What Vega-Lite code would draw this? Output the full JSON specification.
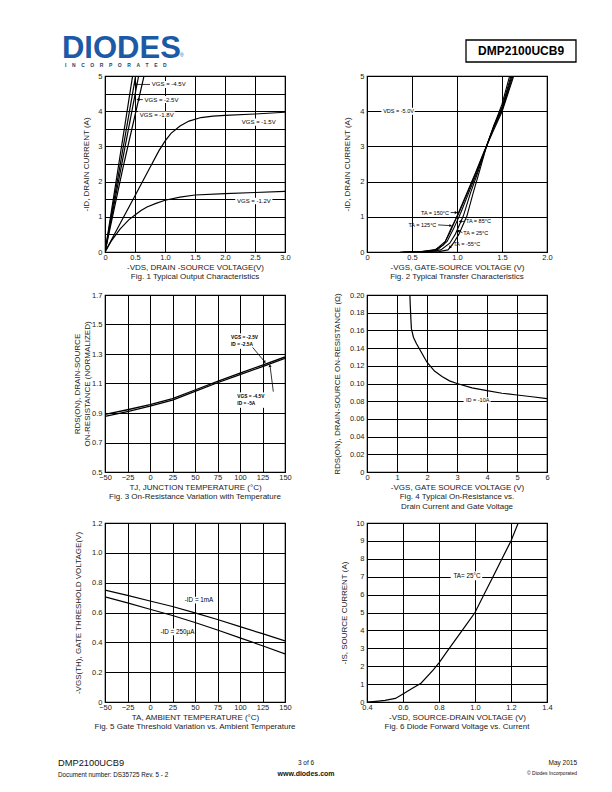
{
"$schema": "https://vega.github.io/schema/vega-lite/v6.json",
"padding": {"left": 58, "top": 28, "right": 0, "bottom": 0},
"background": "white",
"config": {
  "font": "Liberation Sans",
  "view": {"stroke": "black", "strokeWidth": 1.2},
  "axis": {"grid": true, "gridColor": "black", "gridOpacity": 1, "gridWidth": 1, "ticks": false, "domain": false, "tickCount": 60,
           "labelFont": "Liberation Sans", "labelFontSize": 7.5, "labelColor": "#222", "labelFlush": false, "labelOverlap": false, "labelBound": false,
           "titleFont": "Liberation Sans", "titleFontSize": 8, "titleFontWeight": "normal", "titleColor": "#222"},
  "axisX": {"labelPadding": 1, "titlePadding": 2.5},
  "axisY": {"labelPadding": 3, "titlePadding": 7},
  "title": {"orient": "bottom", "anchor": "middle", "font": "Liberation Sans", "fontSize": 8, "fontWeight": "normal", "color": "#222", "offset": 2},
  "text": {"font": "Liberation Sans"}
},
"datasets": {
  "hL": [
    {"k": "logo", "x": -23.9, "y": 62.5, "t": "DIODES"},
    {"k": "inc", "x": -22.2, "y": 81, "t": "I\u00a0\u00a0\u00a0\u00a0N\u00a0\u00a0\u00a0\u00a0C\u00a0\u00a0\u00a0\u00a0O\u00a0\u00a0\u00a0\u00a0R\u00a0\u00a0\u00a0\u00a0P\u00a0\u00a0\u00a0\u00a0O\u00a0\u00a0\u00a0\u00a0R\u00a0\u00a0\u00a0\u00a0A\u00a0\u00a0\u00a0\u00a0T\u00a0\u00a0\u00a0\u00a0E\u00a0\u00a0\u00a0\u00a0D"},
    {"k": "reg", "x": 41.7, "y": 60, "t": "®"}
  ],
  "hRbox": [{"x1": 55, "x2": 116.1, "y1": 25, "y2": 70.8}],
  "hR": [{"x": 85.6, "y": 47.9, "t": "DMP2100UCB9"}],
  "fL": [
    {"k": "pn", "x": -26.1, "y": 82.1, "t": "DMP2100UCB9"},
    {"k": "doc", "x": -26.1, "y": 96.2, "t": "Document number: DS35725 Rev. 5 - 2"},
    {"k": "pg", "x": 111.7, "y": 80.8, "t": "3 of 6"},
    {"k": "www", "x": 111.7, "y": 94.9, "t": "www.diodes.com"}
  ],
  "fR": [
    {"k": "date", "x": 116.7, "y": 80.8, "t": "May 2015"},
    {"k": "copy", "x": 116.7, "y": 93.6, "t": "© Diodes Incorporated"}
  ],
  "empty": [],
  "c1": [
    {"s": "-4.5V", "x": 0, "y": 0}, {"s": "-4.5V", "x": 0.46, "y": 5},
    {"s": "-3.0V", "x": 0, "y": 0}, {"s": "-3.0V", "x": 0.51, "y": 5},
    {"s": "-2.5V", "x": 0, "y": 0}, {"s": "-2.5V", "x": 0.56, "y": 5},
    {"s": "-1.8V", "x": 0, "y": 0}, {"s": "-1.8V", "x": 0.3, "y": 2.4}, {"s": "-1.8V", "x": 0.65, "y": 5},
    {"s": "-1.5V", "x": 0, "y": 0}, {"s": "-1.5V", "x": 0.25, "y": 0.8}, {"s": "-1.5V", "x": 0.5, "y": 1.6}, {"s": "-1.5V", "x": 0.75, "y": 2.4}, {"s": "-1.5V", "x": 0.9, "y": 2.88}, {"s": "-1.5V", "x": 1.0, "y": 3.15}, {"s": "-1.5V", "x": 1.1, "y": 3.37}, {"s": "-1.5V", "x": 1.25, "y": 3.58}, {"s": "-1.5V", "x": 1.4, "y": 3.72}, {"s": "-1.5V", "x": 1.6, "y": 3.82}, {"s": "-1.5V", "x": 1.8, "y": 3.86}, {"s": "-1.5V", "x": 2.0, "y": 3.88}, {"s": "-1.5V", "x": 2.5, "y": 3.92}, {"s": "-1.5V", "x": 3.0, "y": 3.97},
    {"s": "-1.2V", "x": 0, "y": 0}, {"s": "-1.2V", "x": 0.1, "y": 0.3}, {"s": "-1.2V", "x": 0.25, "y": 0.65}, {"s": "-1.2V", "x": 0.4, "y": 0.92}, {"s": "-1.2V", "x": 0.5, "y": 1.05}, {"s": "-1.2V", "x": 0.6, "y": 1.18}, {"s": "-1.2V", "x": 0.7, "y": 1.28}, {"s": "-1.2V", "x": 0.85, "y": 1.38}, {"s": "-1.2V", "x": 1.0, "y": 1.47}, {"s": "-1.2V", "x": 1.25, "y": 1.56}, {"s": "-1.2V", "x": 1.5, "y": 1.62}, {"s": "-1.2V", "x": 2.0, "y": 1.66}, {"s": "-1.2V", "x": 2.5, "y": 1.69}, {"s": "-1.2V", "x": 3.0, "y": 1.72}
  ],
  "c1lab": [
    {"x": 0.78, "y": 4.76, "t": "VGS = -4.5V"},
    {"x": 0.66, "y": 4.33, "t": "VGS = -2.5V"},
    {"x": 0.58, "y": 3.9, "t": "VGS = -1.8V"},
    {"x": 2.28, "y": 3.69, "t": "VGS = -1.5V"},
    {"x": 2.2, "y": 1.45, "t": "VGS = -1.2V"}
  ],
  "c1bg": [
    {"x1": 0.75, "x2": 1.37, "y1": 4.66, "y2": 4.86},
    {"x1": 0.63, "x2": 1.25, "y1": 4.23, "y2": 4.43},
    {"x1": 0.55, "x2": 1.17, "y1": 3.81, "y2": 3.99},
    {"x1": 2.25, "x2": 2.87, "y1": 3.59, "y2": 3.79},
    {"x1": 2.17, "x2": 2.79, "y1": 1.36, "y2": 1.54}
  ],
  "c1ld": [
    {"x1": 0.5, "x2": 0.75, "y1": 4.76, "y2": 4.76},
    {"x1": 0.55, "x2": 0.63, "y1": 4.33, "y2": 4.33}
  ],
  "c1ar": [
    {"x": 0.5, "y": 4.76, "a": 270},
    {"x": 0.55, "y": 4.33, "a": 270}
  ],
  "c2": [
    {"s": "-55", "x": 0.62, "y": 0}, {"s": "-55", "x": 0.8, "y": 0.01}, {"s": "-55", "x": 0.9, "y": 0.06}, {"s": "-55", "x": 0.96, "y": 0.25}, {"s": "-55", "x": 1.02, "y": 0.5}, {"s": "-55", "x": 1.11, "y": 1.02}, {"s": "-55", "x": 1.18, "y": 1.68}, {"s": "-55", "x": 1.25, "y": 2.3}, {"s": "-55", "x": 1.33, "y": 3.02}, {"s": "-55", "x": 1.42, "y": 3.65}, {"s": "-55", "x": 1.5, "y": 4.2}, {"s": "-55", "x": 1.585, "y": 5.0},
    {"s": "25", "x": 0.52, "y": 0}, {"s": "25", "x": 0.7, "y": 0.01}, {"s": "25", "x": 0.82, "y": 0.06}, {"s": "25", "x": 0.92, "y": 0.25}, {"s": "25", "x": 0.98, "y": 0.5}, {"s": "25", "x": 1.07, "y": 1.02}, {"s": "25", "x": 1.15, "y": 1.68}, {"s": "25", "x": 1.23, "y": 2.25}, {"s": "25", "x": 1.33, "y": 3.02}, {"s": "25", "x": 1.41, "y": 3.6}, {"s": "25", "x": 1.5, "y": 4.12}, {"s": "25", "x": 1.6, "y": 5.0},
    {"s": "85", "x": 0.45, "y": 0}, {"s": "85", "x": 0.65, "y": 0.01}, {"s": "85", "x": 0.78, "y": 0.06}, {"s": "85", "x": 0.89, "y": 0.3}, {"s": "85", "x": 0.96, "y": 0.65}, {"s": "85", "x": 1.04, "y": 1.1}, {"s": "85", "x": 1.13, "y": 1.68}, {"s": "85", "x": 1.22, "y": 2.25}, {"s": "85", "x": 1.33, "y": 3.02}, {"s": "85", "x": 1.41, "y": 3.55}, {"s": "85", "x": 1.5, "y": 4.07}, {"s": "85", "x": 1.61, "y": 5.0},
    {"s": "125", "x": 0.4, "y": 0}, {"s": "125", "x": 0.62, "y": 0.01}, {"s": "125", "x": 0.76, "y": 0.06}, {"s": "125", "x": 0.87, "y": 0.3}, {"s": "125", "x": 0.94, "y": 0.7}, {"s": "125", "x": 1.02, "y": 1.1}, {"s": "125", "x": 1.12, "y": 1.7}, {"s": "125", "x": 1.21, "y": 2.25}, {"s": "125", "x": 1.33, "y": 3.02}, {"s": "125", "x": 1.4, "y": 3.48}, {"s": "125", "x": 1.5, "y": 4.02}, {"s": "125", "x": 1.62, "y": 5.0},
    {"s": "150", "x": 0.37, "y": 0}, {"s": "150", "x": 0.6, "y": 0.01}, {"s": "150", "x": 0.75, "y": 0.06}, {"s": "150", "x": 0.85, "y": 0.2}, {"s": "150", "x": 0.92, "y": 0.55}, {"s": "150", "x": 1.0, "y": 1.02}, {"s": "150", "x": 1.11, "y": 1.68}, {"s": "150", "x": 1.2, "y": 2.22}, {"s": "150", "x": 1.3, "y": 2.85}, {"s": "150", "x": 1.4, "y": 3.42}, {"s": "150", "x": 1.5, "y": 3.98}, {"s": "150", "x": 1.63, "y": 5.0}
  ],
  "c2lab": [
    {"x": 0.18, "y": 4.0, "t": "VDS = -5.0V"},
    {"x": 0.6, "y": 1.12, "t": "TA = 150°C"},
    {"x": 0.46, "y": 0.77, "t": "TA = 125°C"},
    {"x": 1.1, "y": 0.87, "t": "TA = 85°C"},
    {"x": 1.07, "y": 0.55, "t": "TA = 25°C"},
    {"x": 0.96, "y": 0.23, "t": "TA = -55°C"}
  ],
  "c2bg": [{"x1": 0.16, "x2": 0.53, "y1": 3.9, "y2": 4.1}],
  "c2ld": [
    {"x1": 0.93, "x2": 0.99, "y1": 1.12, "y2": 1.12},
    {"x1": 0.79, "x2": 0.92, "y1": 0.77, "y2": 0.75},
    {"x1": 1.09, "x2": 1.04, "y1": 0.87, "y2": 0.87},
    {"x1": 1.06, "x2": 1.02, "y1": 0.55, "y2": 0.6},
    {"x1": 0.955, "x2": 0.925, "y1": 0.21, "y2": 0.14}
  ],
  "c2ar": [
    {"x": 0.99, "y": 1.12, "a": 90},
    {"x": 0.93, "y": 0.75, "a": 95},
    {"x": 1.035, "y": 0.87, "a": 270},
    {"x": 1.015, "y": 0.61, "a": 315},
    {"x": 0.92, "y": 0.13, "a": 225}
  ],
  "c3": [
    {"s": "-2.5V", "x": -50, "y": 0.89}, {"s": "-2.5V", "x": -25, "y": 0.922}, {"s": "-2.5V", "x": 0, "y": 0.957}, {"s": "-2.5V", "x": 25, "y": 0.997}, {"s": "-2.5V", "x": 50, "y": 1.056}, {"s": "-2.5V", "x": 75, "y": 1.115}, {"s": "-2.5V", "x": 100, "y": 1.17}, {"s": "-2.5V", "x": 125, "y": 1.225}, {"s": "-2.5V", "x": 150, "y": 1.28},
    {"s": "-4.5V", "x": -50, "y": 0.877}, {"s": "-4.5V", "x": -25, "y": 0.91}, {"s": "-4.5V", "x": 0, "y": 0.946}, {"s": "-4.5V", "x": 25, "y": 0.987}, {"s": "-4.5V", "x": 50, "y": 1.046}, {"s": "-4.5V", "x": 75, "y": 1.105}, {"s": "-4.5V", "x": 100, "y": 1.16}, {"s": "-4.5V", "x": 125, "y": 1.215}, {"s": "-4.5V", "x": 150, "y": 1.27}
  ],
  "c3lab": [
    {"x": 90, "y": 1.41, "t": "VGS = -2.5V"},
    {"x": 90, "y": 1.36, "t": "ID = -2.5A"},
    {"x": 97, "y": 1.01, "t": "VGS = -4.5V"},
    {"x": 97, "y": 0.96, "t": "ID = -5A"}
  ],
  "c3bg": [
    {"x1": 88, "x2": 121, "y1": 1.335, "y2": 1.44},
    {"x1": 95, "x2": 128, "y1": 0.935, "y2": 1.04}
  ],
  "c3ld": [
    {"x1": 114, "x2": 127, "y1": 1.345, "y2": 1.25},
    {"x1": 137, "x2": 133.5, "y1": 1.045, "y2": 1.215}
  ],
  "c3ar": [
    {"x": 127.5, "y": 1.245, "a": 145},
    {"x": 133.2, "y": 1.222, "a": 350}
  ],
  "c4": [
    {"x": 1.43, "y": 0.2}, {"x": 1.44, "y": 0.19}, {"x": 1.46, "y": 0.175}, {"x": 1.48, "y": 0.162}, {"x": 1.55, "y": 0.152}, {"x": 1.65, "y": 0.145}, {"x": 1.75, "y": 0.139}, {"x": 1.9, "y": 0.13}, {"x": 2.0, "y": 0.124}, {"x": 2.25, "y": 0.114}, {"x": 2.5, "y": 0.108}, {"x": 2.75, "y": 0.103}, {"x": 3.0, "y": 0.1}, {"x": 3.5, "y": 0.095}, {"x": 4.0, "y": 0.092}, {"x": 4.5, "y": 0.089}, {"x": 5.0, "y": 0.087}, {"x": 5.5, "y": 0.085}, {"x": 6.0, "y": 0.083}
  ],
  "c4lab": [{"x": 3.3, "y": 0.081, "t": "ID = -10A"}],
  "c4bg": [{"x1": 3.22, "x2": 4.12, "y1": 0.0775, "y2": 0.0845}],
  "c5": [
    {"s": "1mA", "x": -50, "y": 0.75}, {"s": "1mA", "x": -25, "y": 0.715}, {"s": "1mA", "x": 0, "y": 0.677}, {"s": "1mA", "x": 25, "y": 0.64}, {"s": "1mA", "x": 50, "y": 0.598}, {"s": "1mA", "x": 75, "y": 0.553}, {"s": "1mA", "x": 100, "y": 0.505}, {"s": "1mA", "x": 125, "y": 0.458}, {"s": "1mA", "x": 150, "y": 0.41},
    {"s": "250uA", "x": -50, "y": 0.705}, {"s": "250uA", "x": -25, "y": 0.665}, {"s": "250uA", "x": 0, "y": 0.622}, {"s": "250uA", "x": 25, "y": 0.58}, {"s": "250uA", "x": 50, "y": 0.533}, {"s": "250uA", "x": 75, "y": 0.483}, {"s": "250uA", "x": 100, "y": 0.43}, {"s": "250uA", "x": 125, "y": 0.377}, {"s": "250uA", "x": 150, "y": 0.322}
  ],
  "c5lab": [
    {"x": 38.6, "y": 0.683, "t": "-ID = 1mA"},
    {"x": 11.6, "y": 0.47, "t": "-ID = 250µA"}
  ],
  "c5bg": [
    {"x1": 36.5, "x2": 72, "y1": 0.66, "y2": 0.706},
    {"x1": 9.5, "x2": 50, "y1": 0.447, "y2": 0.493}
  ],
  "c6": [
    {"x": 0.4, "y": 0}, {"x": 0.45, "y": 0.04}, {"x": 0.5, "y": 0.09}, {"x": 0.558, "y": 0.2}, {"x": 0.609, "y": 0.5}, {"x": 0.65, "y": 0.75}, {"x": 0.7, "y": 1.05}, {"x": 0.767, "y": 1.78}, {"x": 0.8, "y": 2.19}, {"x": 0.85, "y": 2.9}, {"x": 0.9, "y": 3.6}, {"x": 0.95, "y": 4.3}, {"x": 1.0, "y": 5.0}, {"x": 1.05, "y": 6.0}, {"x": 1.1, "y": 7.0}, {"x": 1.15, "y": 8.0}, {"x": 1.2, "y": 9.0}, {"x": 1.24, "y": 10.0}
  ],
  "c6lab": [{"x": 0.88, "y": 7.05, "t": "TA= 25°C"}],
  "c6bg": [{"x1": 0.865, "x2": 1.04, "y1": 6.8, "y2": 7.3}]
},
"columns": 2,
"bounds": "flush",
"spacing": {"row": 0, "column": 82},
"concat": [
  {
    "width": 180, "height": 48, "view": {"stroke": null},
    "layer": [
      {"data": {"name": "hL"}, "transform": [{"filter": "datum.k == 'logo'"}],
       "mark": {"type": "text", "align": "left", "baseline": "alphabetic", "fontSize": 31, "fontWeight": "bold", "color": "#1d5aa6"},
       "encoding": {"x": {"field": "x", "type": "quantitative", "scale": {"domain": [0, 100], "nice": false, "zero": false}, "axis": null},
                    "y": {"field": "y", "type": "quantitative", "scale": {"domain": [0, 100], "nice": false, "zero": false, "reverse": true}, "axis": null},
                    "text": {"field": "t"}}},
      {"data": {"name": "hL"}, "transform": [{"filter": "datum.k == 'inc'"}],
       "mark": {"type": "text", "align": "left", "baseline": "alphabetic", "fontSize": 5, "fontWeight": "bold", "color": "#1d3f6e"},
       "encoding": {"x": {"field": "x", "type": "quantitative"}, "y": {"field": "y", "type": "quantitative"}, "text": {"field": "t"}}},
      {"data": {"name": "hL"}, "transform": [{"filter": "datum.k == 'reg'"}],
       "mark": {"type": "text", "align": "left", "baseline": "alphabetic", "fontSize": 5, "color": "#1d5aa6"},
       "encoding": {"x": {"field": "x", "type": "quantitative"}, "y": {"field": "y", "type": "quantitative"}, "text": {"field": "t"}}}
    ]
  },
  {
    "width": 180, "height": 48, "view": {"stroke": null},
    "layer": [
      {"data": {"name": "hRbox"}, "mark": {"type": "rect", "fill": "white", "stroke": "black", "strokeWidth": 1.3},
       "encoding": {"x": {"field": "x1", "type": "quantitative", "scale": {"domain": [0, 100], "nice": false, "zero": false}, "axis": null}, "x2": {"field": "x2"},
                    "y": {"field": "y1", "type": "quantitative", "scale": {"domain": [0, 100], "nice": false, "zero": false, "reverse": true}, "axis": null}, "y2": {"field": "y2"}}},
      {"data": {"name": "hR"},
       "mark": {"type": "text", "align": "center", "baseline": "middle", "fontSize": 12, "fontWeight": "bold", "color": "black"},
       "encoding": {"x": {"field": "x", "type": "quantitative"}, "y": {"field": "y", "type": "quantitative"}, "text": {"field": "t"}}}
    ]
  },
  {
    "width": 180, "height": 176,
    "title": "Fig. 1 Typical Output Characteristics",
    "layer": [
      {"data": {"name": "c1bg"}, "mark": {"type": "rect", "fill": "white"},
       "encoding": {
         "x": {"field": "x1", "type": "quantitative", "scale": {"domain": [0, 3], "nice": false, "zero": false},
               "axis": {"title": "-VDS, DRAIN -SOURCE VOLTAGE(V)", "values": [0, 0.5, 1, 1.5, 2, 2.5, 3], "labelExpr": "datum.value == 0 ? '0' : format(datum.value, '.1f')"}},
         "x2": {"field": "x2"},
         "y": {"field": "y1", "type": "quantitative", "scale": {"domain": [0, 5], "nice": false, "zero": false},
               "axis": {"title": "-ID, DRAIN CURRENT (A)", "titlePadding": 7, "values": [0, 0.5, 1, 1.5, 2, 2.5, 3, 3.5, 4, 4.5, 5], "labelExpr": "datum.value % 1 == 0 ? format(datum.value, 'd') : ''"}},
         "y2": {"field": "y2"}}},
      {"data": {"name": "c1"}, "mark": {"type": "line", "color": "black", "strokeWidth": 1.2, "clip": true},
       "encoding": {"x": {"field": "x", "type": "quantitative"}, "y": {"field": "y", "type": "quantitative"}, "detail": {"field": "s"}}},
      {"data": {"name": "c1ld"}, "mark": {"type": "rule", "color": "black", "strokeWidth": 0.8},
       "encoding": {"x": {"field": "x1", "type": "quantitative"}, "x2": {"field": "x2"}, "y": {"field": "y1", "type": "quantitative"}, "y2": {"field": "y2"}}},
      {"data": {"name": "c1ar"}, "mark": {"type": "point", "shape": "triangle-up", "filled": true, "color": "black", "size": 12, "opacity": 1},
       "encoding": {"x": {"field": "x", "type": "quantitative"}, "y": {"field": "y", "type": "quantitative"}, "angle": {"field": "a", "type": "quantitative", "scale": {"domain": [0, 360], "range": [0, 360]}}}},
      {"data": {"name": "c1lab"}, "mark": {"type": "text", "align": "left", "baseline": "middle", "fontSize": 6, "color": "black"},
       "encoding": {"x": {"field": "x", "type": "quantitative"}, "y": {"field": "y", "type": "quantitative"}, "text": {"field": "t"}}}
    ]
  },
  {
    "width": 180, "height": 176,
    "title": "Fig. 2  Typical Transfer Characteristics",
    "layer": [
      {"data": {"name": "c2bg"}, "mark": {"type": "rect", "fill": "white"},
       "encoding": {
         "x": {"field": "x1", "type": "quantitative", "scale": {"domain": [0, 2], "nice": false, "zero": false},
               "axis": {"title": "-VGS, GATE-SOURCE VOLTAGE (V)", "values": [0, 0.5, 1, 1.5, 2], "labelExpr": "datum.value == 0 ? '0' : format(datum.value, '.1f')"}},
         "x2": {"field": "x2"},
         "y": {"field": "y1", "type": "quantitative", "scale": {"domain": [0, 5], "nice": false, "zero": false},
               "axis": {"title": "-ID, DRAIN CURRENT (A)", "titlePadding": 8, "values": [0, 1, 2, 3, 4, 5], "format": "d"}},
         "y2": {"field": "y2"}}},
      {"data": {"name": "c2"}, "mark": {"type": "line", "color": "black", "strokeWidth": 1.1, "clip": true},
       "encoding": {"x": {"field": "x", "type": "quantitative"}, "y": {"field": "y", "type": "quantitative"}, "detail": {"field": "s"}}},
      {"data": {"name": "c2ld"}, "mark": {"type": "rule", "color": "black", "strokeWidth": 0.8},
       "encoding": {"x": {"field": "x1", "type": "quantitative"}, "x2": {"field": "x2"}, "y": {"field": "y1", "type": "quantitative"}, "y2": {"field": "y2"}}},
      {"data": {"name": "c2ar"}, "mark": {"type": "point", "shape": "triangle-up", "filled": true, "color": "black", "size": 10, "opacity": 1},
       "encoding": {"x": {"field": "x", "type": "quantitative"}, "y": {"field": "y", "type": "quantitative"}, "angle": {"field": "a", "type": "quantitative", "scale": {"domain": [0, 360], "range": [0, 360]}}}},
      {"data": {"name": "c2lab"}, "mark": {"type": "text", "align": "left", "baseline": "middle", "fontSize": 5.5, "color": "black"},
       "encoding": {"x": {"field": "x", "type": "quantitative"}, "y": {"field": "y", "type": "quantitative"}, "text": {"field": "t"}}}
    ]
  },
  {"width": 180, "height": 43, "view": {"stroke": null}, "data": {"name": "empty"}, "mark": "point"},
  {"width": 180, "height": 43, "view": {"stroke": null}, "data": {"name": "empty"}, "mark": "point"},
  {
    "width": 180, "height": 177,
    "title": "Fig. 3 On-Resistance Variation with Temperature",
    "layer": [
      {"data": {"name": "c3bg"}, "mark": {"type": "rect", "fill": "white"},
       "encoding": {
         "x": {"field": "x1", "type": "quantitative", "scale": {"domain": [-50, 150], "nice": false, "zero": false},
               "axis": {"title": "TJ, JUNCTION TEMPERATURE (°C)", "values": [-50, -25, 0, 25, 50, 75, 100, 125, 150], "format": "d"}},
         "x2": {"field": "x2"},
         "y": {"field": "y1", "type": "quantitative", "scale": {"domain": [0.5, 1.7], "nice": false, "zero": false},
               "axis": {"title": ["RDS(ON), DRAIN-SOURCE", "ON-RESISTANCE (NORMALIZED)"], "titlePadding": 0, "values": [0.5, 0.7, 0.9, 1.1, 1.3, 1.5, 1.7], "format": ".1f"}},
         "y2": {"field": "y2"}}},
      {"data": {"name": "c3"}, "mark": {"type": "line", "color": "black", "strokeWidth": 1.3, "clip": true},
       "encoding": {"x": {"field": "x", "type": "quantitative"}, "y": {"field": "y", "type": "quantitative"}, "detail": {"field": "s"}}},
      {"data": {"name": "c3ld"}, "mark": {"type": "rule", "color": "black", "strokeWidth": 0.8},
       "encoding": {"x": {"field": "x1", "type": "quantitative"}, "x2": {"field": "x2"}, "y": {"field": "y1", "type": "quantitative"}, "y2": {"field": "y2"}}},
      {"data": {"name": "c3ar"}, "mark": {"type": "point", "shape": "triangle-up", "filled": true, "color": "black", "size": 10, "opacity": 1},
       "encoding": {"x": {"field": "x", "type": "quantitative"}, "y": {"field": "y", "type": "quantitative"}, "angle": {"field": "a", "type": "quantitative", "scale": {"domain": [0, 360], "range": [0, 360]}}}},
      {"data": {"name": "c3lab"}, "mark": {"type": "text", "align": "left", "baseline": "middle", "fontSize": 4.8, "fontWeight": "bold", "color": "black"},
       "encoding": {"x": {"field": "x", "type": "quantitative"}, "y": {"field": "y", "type": "quantitative"}, "text": {"field": "t"}}}
    ]
  },
  {
    "width": 180, "height": 177,
    "title": ["Fig. 4 Typical On-Resistance vs.", "Drain Current and Gate Voltage"],
    "layer": [
      {"data": {"name": "c4bg"}, "mark": {"type": "rect", "fill": "white"},
       "encoding": {
         "x": {"field": "x1", "type": "quantitative", "scale": {"domain": [0, 6], "nice": false, "zero": false},
               "axis": {"title": "-VGS, GATE SOURCE VOLTAGE (V)", "values": [0, 1, 2, 3, 4, 5, 6], "format": "d"}},
         "x2": {"field": "x2"},
         "y": {"field": "y1", "type": "quantitative", "scale": {"domain": [0, 0.2], "nice": false, "zero": false},
               "axis": {"title": "RDS(ON), DRAIN-SOURCE ON-RESISTANCE (Ω)", "titlePadding": 8, "values": [0, 0.02, 0.04, 0.06, 0.08, 0.1, 0.12, 0.14, 0.16, 0.18, 0.2], "labelExpr": "datum.value == 0 ? '0' : format(datum.value, '.2f')"}},
         "y2": {"field": "y2"}}},
      {"data": {"name": "c4"}, "mark": {"type": "line", "color": "black", "strokeWidth": 1.2, "clip": true},
       "encoding": {"x": {"field": "x", "type": "quantitative"}, "y": {"field": "y", "type": "quantitative"}}},
      {"data": {"name": "c4lab"}, "mark": {"type": "text", "align": "left", "baseline": "middle", "fontSize": 5.5, "color": "black"},
       "encoding": {"x": {"field": "x", "type": "quantitative"}, "y": {"field": "y", "type": "quantitative"}, "text": {"field": "t"}}}
    ]
  },
  {"width": 180, "height": 51, "view": {"stroke": null}, "data": {"name": "empty"}, "mark": "point"},
  {"width": 180, "height": 51, "view": {"stroke": null}, "data": {"name": "empty"}, "mark": "point"},
  {
    "width": 180, "height": 179,
    "title": "Fig. 5 Gate Threshold Variation vs. Ambient Temperature",
    "layer": [
      {"data": {"name": "c5bg"}, "mark": {"type": "rect", "fill": "white"},
       "encoding": {
         "x": {"field": "x1", "type": "quantitative", "scale": {"domain": [-50, 150], "nice": false, "zero": false},
               "axis": {"title": "TA, AMBIENT TEMPERATURE (°C)", "values": [-50, -25, 0, 25, 50, 75, 100, 125, 150], "format": "d"}},
         "x2": {"field": "x2"},
         "y": {"field": "y1", "type": "quantitative", "scale": {"domain": [0, 1.2], "nice": false, "zero": false},
               "axis": {"title": "-VGS(TH), GATE THRESHOLD VOLTAGE(V)", "titlePadding": 9, "values": [0, 0.2, 0.4, 0.6, 0.8, 1.0, 1.2], "labelExpr": "datum.value == 0 ? '0' : format(datum.value, '.1f')"}},
         "y2": {"field": "y2"}}},
      {"data": {"name": "c5"}, "mark": {"type": "line", "color": "black", "strokeWidth": 1.2, "clip": true},
       "encoding": {"x": {"field": "x", "type": "quantitative"}, "y": {"field": "y", "type": "quantitative"}, "detail": {"field": "s"}}},
      {"data": {"name": "c5lab"}, "mark": {"type": "text", "align": "left", "baseline": "middle", "fontSize": 6.3, "color": "black"},
       "encoding": {"x": {"field": "x", "type": "quantitative"}, "y": {"field": "y", "type": "quantitative"}, "text": {"field": "t"}}}
    ]
  },
  {
    "width": 180, "height": 179,
    "title": "Fig. 6 Diode Forward Voltage vs. Current",
    "layer": [
      {"data": {"name": "c6bg"}, "mark": {"type": "rect", "fill": "white"},
       "encoding": {
         "x": {"field": "x1", "type": "quantitative", "scale": {"domain": [0.4, 1.4], "nice": false, "zero": false},
               "axis": {"title": "-VSD, SOURCE-DRAIN VOLTAGE (V)", "values": [0.4, 0.6, 0.8, 1.0, 1.2, 1.4], "format": ".1f"}},
         "x2": {"field": "x2"},
         "y": {"field": "y1", "type": "quantitative", "scale": {"domain": [0, 10], "nice": false, "zero": false},
               "axis": {"title": "-IS, SOURCE CURRENT (A)", "titlePadding": 7, "values": [0, 1, 2, 3, 4, 5, 6, 7, 8, 9, 10], "format": "d"}},
         "y2": {"field": "y2"}}},
      {"data": {"name": "c6"}, "mark": {"type": "line", "color": "black", "strokeWidth": 1.2, "clip": true},
       "encoding": {"x": {"field": "x", "type": "quantitative"}, "y": {"field": "y", "type": "quantitative"}}},
      {"data": {"name": "c6lab"}, "mark": {"type": "text", "align": "left", "baseline": "middle", "fontSize": 6.3, "color": "black"},
       "encoding": {"x": {"field": "x", "type": "quantitative"}, "y": {"field": "y", "type": "quantitative"}, "text": {"field": "t"}}}
    ]
  },
  {
    "width": 180, "height": 78, "view": {"stroke": null},
    "layer": [
      {"data": {"name": "fL"}, "transform": [{"filter": "datum.k == 'pn'"}],
       "mark": {"type": "text", "align": "left", "baseline": "alphabetic", "fontSize": 9.3, "color": "#111"},
       "encoding": {"x": {"field": "x", "type": "quantitative", "scale": {"domain": [0, 100], "nice": false, "zero": false}, "axis": null},
                    "y": {"field": "y", "type": "quantitative", "scale": {"domain": [0, 100], "nice": false, "zero": false, "reverse": true}, "axis": null},
                    "text": {"field": "t"}}},
      {"data": {"name": "fL"}, "transform": [{"filter": "datum.k == 'doc'"}],
       "mark": {"type": "text", "align": "left", "baseline": "alphabetic", "fontSize": 6.3, "color": "#111"},
       "encoding": {"x": {"field": "x", "type": "quantitative"}, "y": {"field": "y", "type": "quantitative"}, "text": {"field": "t"}}},
      {"data": {"name": "fL"}, "transform": [{"filter": "datum.k == 'pg'"}],
       "mark": {"type": "text", "align": "center", "baseline": "alphabetic", "fontSize": 6.5, "color": "#111"},
       "encoding": {"x": {"field": "x", "type": "quantitative"}, "y": {"field": "y", "type": "quantitative"}, "text": {"field": "t"}}},
      {"data": {"name": "fL"}, "transform": [{"filter": "datum.k == 'www'"}],
       "mark": {"type": "text", "align": "center", "baseline": "alphabetic", "fontSize": 7, "fontWeight": "bold", "color": "#111"},
       "encoding": {"x": {"field": "x", "type": "quantitative"}, "y": {"field": "y", "type": "quantitative"}, "text": {"field": "t"}}}
    ]
  },
  {
    "width": 180, "height": 78, "view": {"stroke": null},
    "layer": [
      {"data": {"name": "fR"}, "transform": [{"filter": "datum.k == 'date'"}],
       "mark": {"type": "text", "align": "right", "baseline": "alphabetic", "fontSize": 6.5, "color": "#111"},
       "encoding": {"x": {"field": "x", "type": "quantitative", "scale": {"domain": [0, 100], "nice": false, "zero": false}, "axis": null},
                    "y": {"field": "y", "type": "quantitative", "scale": {"domain": [0, 100], "nice": false, "zero": false, "reverse": true}, "axis": null},
                    "text": {"field": "t"}}},
      {"data": {"name": "fR"}, "transform": [{"filter": "datum.k == 'copy'"}],
       "mark": {"type": "text", "align": "right", "baseline": "alphabetic", "fontSize": 5, "color": "#111"},
       "encoding": {"x": {"field": "x", "type": "quantitative"}, "y": {"field": "y", "type": "quantitative"}, "text": {"field": "t"}}}
    ]
  }
]
}
